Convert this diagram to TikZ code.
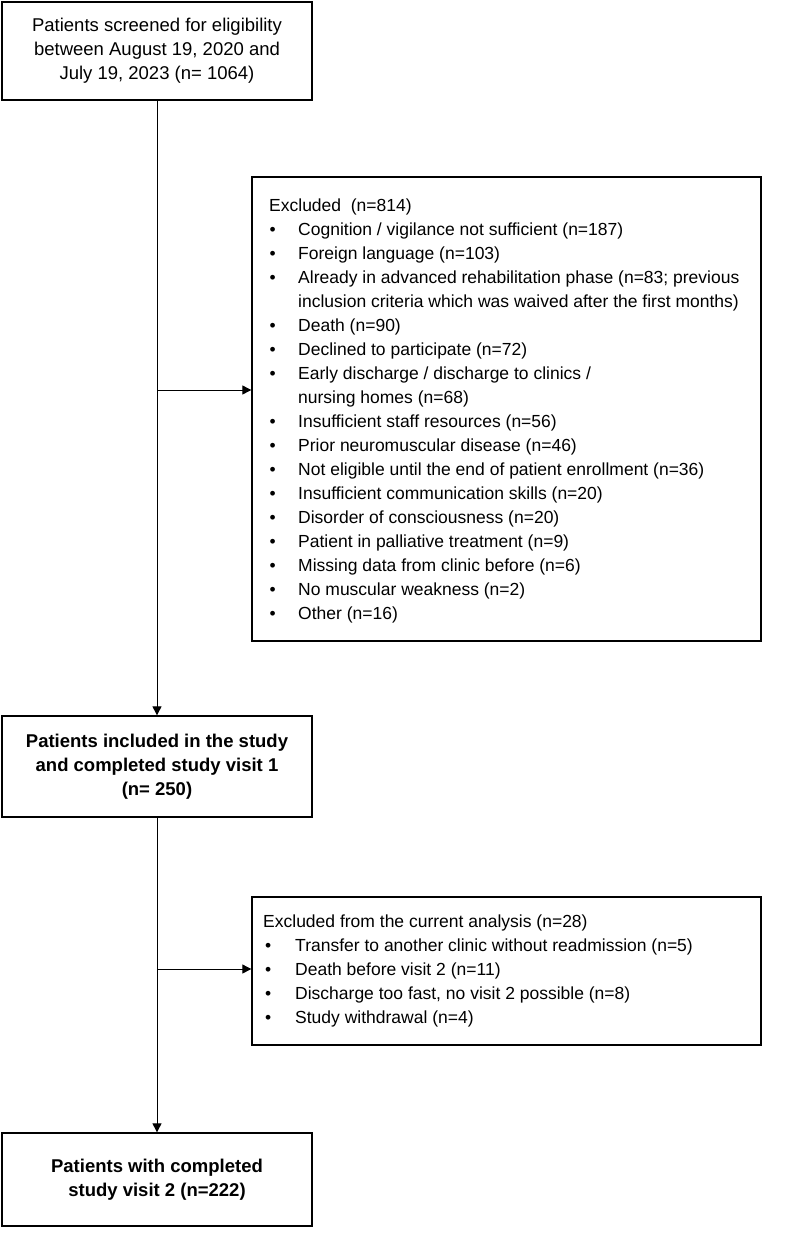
\documentclass[tikz,border=0pt]{standalone}
\usepackage{fontspec}
\setmainfont{Liberation Sans}
\usetikzlibrary{arrows.meta}
\newcommand\bul{\makebox[29pt][l]{\hspace{0.5pt}\textbullet}}
\newcommand\bulb{\makebox[32pt][l]{\hspace{2pt}\textbullet}}
\begin{document}
\begin{tikzpicture}[x=1pt,y=-1pt,
  box/.style={draw=black,line width=1.3pt,rectangle,inner sep=0pt,anchor=center},
  mainbox/.style={box,minimum width=310pt,align=center,
    font=\fontsize{18.5pt}{24pt}\selectfont},
  listbox/.style={box,minimum width=509pt},
  listtext/.style={anchor=west,inner sep=0pt,align=left,
    font=\fontsize{17.5pt}{24pt}\selectfont},
  conn/.style={line width=0.9pt,draw=black},
  arr/.style={conn,-{Triangle[width=9pt,length=9pt]}}]
\useasboundingbox (0,0) rectangle (797,1237);

\node[mainbox,minimum height=98pt] (b1) at (157,51)
  {Patients screened for eligibility\\between August 19, 2020 and\\July 19, 2023 (n= 1064)};

\node[listbox,minimum height=464pt] (b2) at (506.5,409) {};
\node[listtext] (t2) at (269,411)
  {Excluded\ \ (n=814)\\
   \bul Cognition / vigilance not sufficient (n=187)\\
   \bul Foreign language (n=103)\\
   \bul Already in advanced rehabilitation phase (n=83; previous\\
   \hspace*{29pt}inclusion criteria which was waived after the first months)\\
   \bul Death (n=90)\\
   \bul Declined to participate (n=72)\\
   \bul Early discharge / discharge to clinics /\\
   \hspace*{29pt}nursing homes (n=68)\\
   \bul Insufficient staff resources (n=56)\\
   \bul Prior neuromuscular disease (n=46)\\
   \bul Not eligible until the end of patient enrollment (n=36)\\
   \bul Insufficient communication skills (n=20)\\
   \bul Disorder of consciousness (n=20)\\
   \bul Patient in palliative treatment (n=9)\\
   \bul Missing data from clinic before (n=6)\\
   \bul No muscular weakness (n=2)\\
   \bul Other (n=16)};

\node[mainbox,minimum height=101pt,font=\fontsize{18.5pt}{24pt}\selectfont\bfseries] (b3) at (157,766.5)
  {Patients included in the study\\and completed study visit 1\\(n= 250)};

\node[listbox,minimum height=148pt] (b4) at (506.5,971) {};
\node[listtext] (t4) at (263,971)
  {Excluded from the current analysis (n=28)\\
   \bulb Transfer to another clinic without readmission (n=5)\\
   \bulb Death before visit 2 (n=11)\\
   \bulb Discharge too fast, no visit 2 possible (n=8)\\
   \bulb Study withdrawal (n=4)};

\node[mainbox,minimum height=93pt,font=\fontsize{18.5pt}{24pt}\selectfont\bfseries] (b5) at (157,1179.5)
  {Patients with completed\\study visit 2 (n=222)};

\coordinate (j1) at (157,390);
\coordinate (j2) at (157,969);
\draw[arr] (b1.south) -- (b3.north);
\draw[arr] (j1) -- (b2.west |- j1);
\draw[arr] (b3.south) -- (b5.north);
\draw[arr] (j2) -- (b4.west |- j2);
\end{tikzpicture}
\end{document}
